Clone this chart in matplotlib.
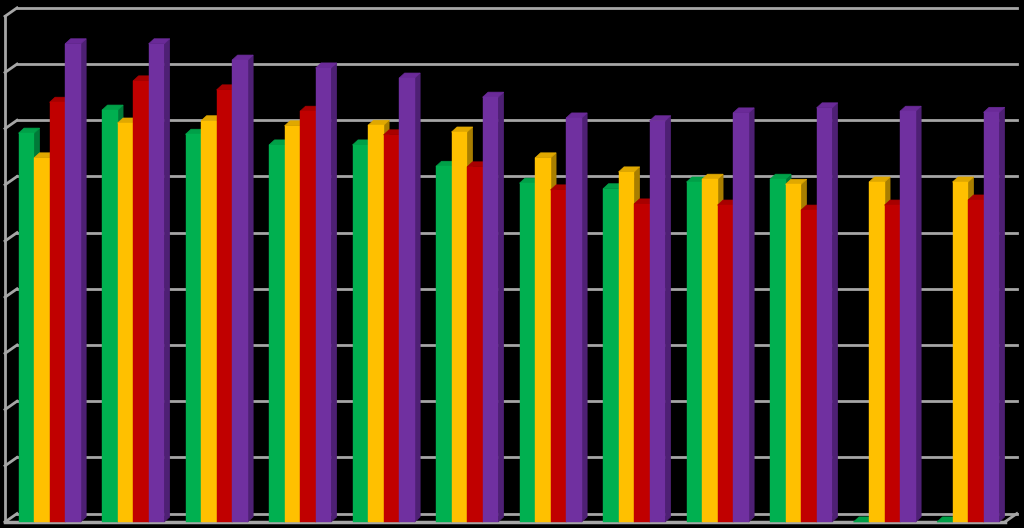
import numpy as np
import matplotlib.pyplot as plt
from matplotlib.patches import Polygon

# values (gridline step = 10)
n_groups = 12
green = [69.2, 73.3, 69.0, 67.1, 67.1, 63.3, 60.3, 59.3, 60.5, 61.0, 0.0, 0.0]
yellow = [64.8, 71.0, 71.4, 70.5, 70.6, 69.4, 64.8, 62.3, 61.0, 60.1, 60.5, 60.5]
red = [74.7, 78.5, 76.9, 73.1, 68.9, 63.2, 59.1, 56.6, 56.4, 55.5, 56.4, 57.3]
purple = [85.1, 85.1, 82.2, 80.8, 79.0, 75.6, 71.9, 71.4, 72.8, 73.7, 73.1, 72.9]

series = [green, yellow, red, purple]
# (front, top, side) colours
colors = [
    ("#00B050", "#00A048", "#007A38"),
    ("#FFC000", "#E0A800", "#A87E00"),
    ("#C00000", "#A80000", "#800000"),
    ("#7030A0", "#6A2A98", "#4E2074"),
]

bar_w = 0.186     # front face width
depth_x = 0.066   # oblique offset of bar depth
depth_y = 0.9
wall_x = 0.144    # offset between front floor edge and back wall
wall_y = 1.5
grid_color = "#A6A6A6"

fig = plt.figure(figsize=(10.24, 5.28), dpi=100, facecolor="black")
ax = fig.add_axes([0, 0, 1, 1])
ax.set_facecolor("black")
ax.set_xlim(-0.594, 11.67)
ax.set_ylim(-1.07, 92.9)
ax.axis("off")

# back wall gridlines and left wall
x_left = -0.534
x_right = 11.44
for k in range(10):
    yb = 10 * k + wall_y
    ax.plot([x_left + wall_x, x_right + wall_x], [yb, yb], color=grid_color, lw=2, zorder=1)
    ax.plot([x_left, x_left + wall_x], [yb - wall_y, yb], color=grid_color, lw=2, zorder=1)
ax.plot([x_left, x_left], [0, 90], color=grid_color, lw=2, zorder=1)
ax.plot([x_left, x_right], [0, 0], color=grid_color, lw=2.5, zorder=1)
ax.plot([x_right, x_right + wall_x], [0, wall_y], color=grid_color, lw=2, zorder=1)

# bars: side, top, front for each, left to right
z = 2
for g in range(n_groups):
    for s, vals in enumerate(series):
        h = vals[g]
        x0 = g + (s - 2) * bar_w
        x1 = x0 + bar_w
        front_c, top_c, side_c = colors[s]
        side = Polygon([(x1, 0), (x1 + depth_x, depth_y), (x1 + depth_x, h + depth_y), (x1, h)],
                       closed=True, facecolor=side_c, edgecolor=side_c, lw=0.5, zorder=z)
        top = Polygon([(x0, h), (x1, h), (x1 + depth_x, h + depth_y), (x0 + depth_x, h + depth_y)],
                      closed=True, facecolor=top_c, edgecolor=top_c, lw=0.5, zorder=z + 1)
        ax.add_patch(side)
        ax.add_patch(top)
        if h > 0:
            ax.bar(x0, h, width=bar_w, align="edge", color=front_c, edgecolor=front_c,
                   lw=0.3, zorder=z + 2)
        z += 3

fig.savefig("out.png", dpi=100, facecolor="black")
